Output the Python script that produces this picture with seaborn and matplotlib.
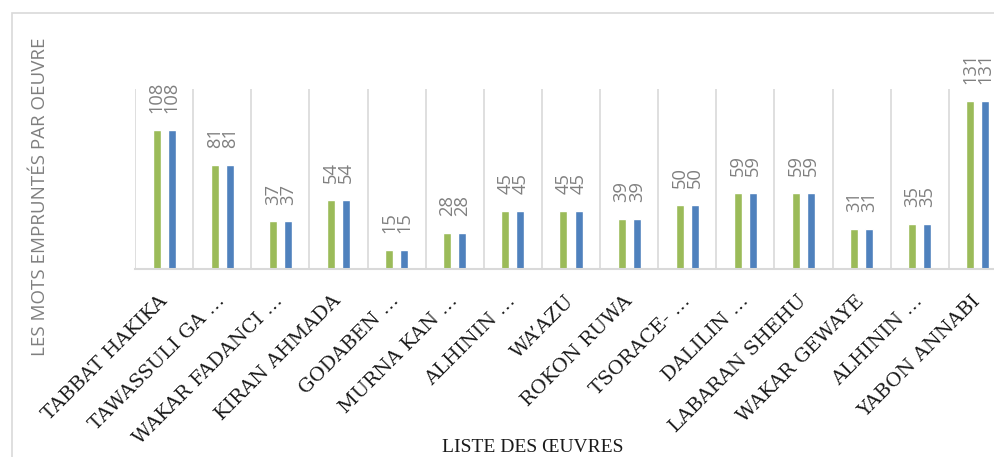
import matplotlib
matplotlib.use("Agg")
import matplotlib.pyplot as plt
from matplotlib.patches import Rectangle
import seaborn as sns
import pandas as pd

# ---- data ----
oeuvres = ["TABBAT HAKIKA", "TAWASSULI GA …", "WAKAR FADANCI …", "KIRAN AHMADA",
           "GODABEN …", "MURNA KAN …", "ALHININ …", "WA’AZU", "ROKON RUWA",
           "TSORACE- …", "DALILIN …", "LABARAN SHEHU", "WAKAR GEWAYE",
           "ALHININ …", "YABON ANNABI"]
serie1 = [108, 81, 37, 54, 15, 28, 45, 45, 39, 50, 59, 59, 31, 35, 131]
serie2 = [108, 81, 37, 54, 15, 28, 45, 45, 39, 50, 59, 59, 31, 35, 131]
series_names = ["Série1", "Série2"]
colors = ["#9BBB59", "#4F81BD"]
ylabel = "LES MOTS EMPRUNTÉS PAR OEUVRE"
xlabel = "LISTE DES ŒUVRES"

n = len(oeuvres)
df = pd.DataFrame({
    "pos": list(range(n)) * 2,
    "mots": serie1 + serie2,
    "serie": [series_names[0]] * n + [series_names[1]] * n,
})

sns.set_style("white")
fig = plt.figure(figsize=(9.95, 4.57), dpi=100)
ax = fig.add_axes([135 / 995, 1 - 269 / 457, 872 / 995, 180 / 457])

sns.barplot(data=df, x="pos", y="mots", hue="serie", palette=colors,
            width=0.52, gap=0.47, saturation=1, legend=False, ax=ax)

for cont in ax.containers:
    ax.bar_label(cont, rotation=90, padding=12, fontsize=13.2,
                 color="#808080", family="Open Sans")

ax.set_xlim(-0.5, n - 0.5)
ax.set_ylim(0, 140)
ax.set_xticks(range(n))
ax.set_xticklabels(oeuvres, rotation=45, ha="right", va="center",
                   rotation_mode="anchor", family="DejaVu Serif",
                   fontsize=14, color="#1a1a1a")
ax.set_xticks([k - 0.5 for k in range(n + 1)], minor=True)
ax.tick_params(axis="x", which="both", length=0, pad=21)
ax.grid(False)
ax.grid(which="minor", axis="x", color="#d9d9d9", linewidth=1.2)
ax.set_yticks([])
ax.set_xlabel("")
ax.set_ylabel("")
for s in ["top", "right", "left"]:
    ax.spines[s].set_visible(False)
ax.spines["bottom"].set_color("#d9d9d9")
ax.spines["bottom"].set_linewidth(1.5)

fig.text(40 / 995, 1 - 197 / 457, ylabel, rotation=90, ha="center",
         va="center", fontsize=13.5, color="#7f7f7f", family="Open Sans")
fig.text(533 / 995, 1 - 447 / 457, xlabel, ha="center", va="center",
         fontsize=14, color="#1a1a1a", family="Liberation Serif")

fig.patches.append(Rectangle((12 / 995, -0.2), 1.2, 1 - 13 / 457 + 0.2,
                             transform=fig.transFigure, fill=False,
                             edgecolor="#d9d9d9", linewidth=1.2))

fig.savefig("out.png", dpi=100)
